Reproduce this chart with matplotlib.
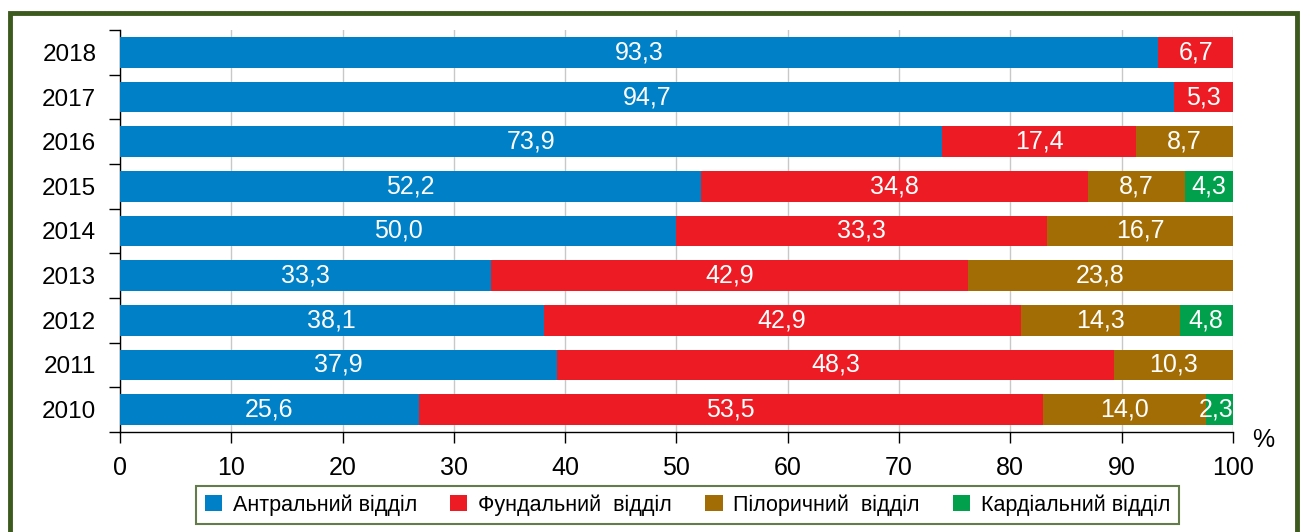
import numpy as np
import matplotlib
matplotlib.use('Agg')
from matplotlib import pyplot as plt
from matplotlib.patches import Rectangle, Patch

plt.rcParams['font.family'] = ['Liberation Sans', 'DejaVu Sans']

years = ['2010', '2011', '2012', '2013', '2014', '2015', '2016', '2017', '2018']
antral = [25.6, 37.9, 38.1, 33.3, 50.0, 52.2, 73.9, 94.7, 93.3]
fundal = [53.5, 48.3, 42.9, 42.9, 33.3, 34.8, 17.4, 5.3, 6.7]
pylor = [14.0, 10.3, 14.3, 23.8, 16.7, 8.7, 8.7, 0, 0]
cardia = [2.3, 0, 4.8, 0, 0, 4.3, 0, 0, 0]

names = ['Антральний відділ', 'Фундальний  відділ', 'Пілоричний  відділ', 'Кардіальний відділ']
colors = ['#0080c6', '#ed1c24', '#a36d05', '#00a04d']

series = np.array([antral, fundal, pylor, cardia])
# bars are drawn scaled to 100 %, labels keep the original numbers
widths = series / series.sum(axis=0) * 100

fig = plt.figure(figsize=(13.01, 5.32), dpi=100)
ax = fig.add_axes([0.0922, 0.188, 0.8555, 0.7556])

y = np.arange(len(years))
left = np.zeros(len(years))
for i in range(4):
    ax.barh(y, widths[i], left=left, height=0.69, color=colors[i], zorder=3)
    for j in range(len(years)):
        if series[i, j] > 0:
            xc = left[j] + widths[i, j] / 2
            ha = 'center'
            if widths[i, j] < 3:
                xc = left[j] + widths[i, j] + 0.05
                ha = 'right'
            ax.text(xc, y[j], f'{series[i, j]:.1f}'.replace('.', ','), color='white',
                    ha=ha, va='center', fontsize=18, zorder=4)
    left += widths[i]

ax.set_xlim(0, 100)
ax.set_ylim(-0.5, len(years) - 0.5)
ax.set_xticks(np.arange(0, 101, 10))
ax.set_yticks(y)
ax.set_yticklabels(years)
ax.set_yticks(np.arange(-0.5, len(years), 1), minor=True)
ax.tick_params(axis='y', which='major', length=0, labelsize=17.5, pad=17)
ax.tick_params(axis='y', which='minor', length=8, width=1, direction='out')
ax.tick_params(axis='x', length=8, width=1, labelsize=18, pad=9)
ax.grid(axis='x', color='#c8c8c8', linewidth=1, zorder=0)
for s in ['top', 'right']:
    ax.spines[s].set_visible(False)
ax.spines['left'].set_linewidth(1)
ax.spines['bottom'].set_linewidth(1)
ax.text(1.027, -0.02, '%', transform=ax.transAxes, fontsize=18, ha='center', va='center')

handles = [Patch(facecolor=c, edgecolor='none') for c in colors]
leg = fig.legend(handles, names, loc='center', bbox_to_anchor=(0.5285, 0.051), ncol=4,
                 fontsize=15.5, frameon=True, fancybox=False, handlelength=0.8,
                 handleheight=0.8, handletextpad=0.5, columnspacing=1.55,
                 borderpad=0.4)
leg.get_frame().set_edgecolor('#3d5a1e')
leg.get_frame().set_linewidth(1.5)

fig.patches.append(Rectangle((10 / 1301, -0.05), 1287 / 1301, 1 - 13 / 532 + 0.05,
                             transform=fig.transFigure, fill=False,
                             edgecolor='#3d5a1e', linewidth=3.5))

fig.savefig('out.png', dpi=100)
